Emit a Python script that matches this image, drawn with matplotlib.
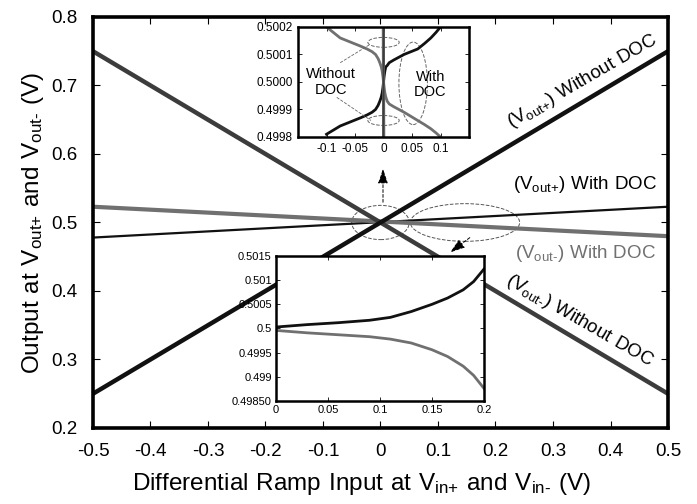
import matplotlib
matplotlib.use('Agg')
import matplotlib.pyplot as plt
from matplotlib.patches import Ellipse

plt.rcParams['font.family'] = ['Liberation Sans', 'DejaVu Sans']
plt.rcParams['mathtext.fontset'] = 'custom'
plt.rcParams['mathtext.rm'] = 'Liberation Sans'
plt.rcParams['mathtext.default'] = 'rm'

# main plot data
x_nodoc = [-0.5, 0.5]
vp_nodoc = [0.25, 0.75]
vm_nodoc = [0.75, 0.25]
x_doc = [-0.5, 0.5]
vp_doc = [0.478, 0.523]
vm_doc = [0.523, 0.480]

x_ticks = [-0.5, -0.4, -0.3, -0.2, -0.1, 0, 0.1, 0.2, 0.3, 0.4, 0.5]
x_tick_labels = ['-0.5', '-0.4', '-0.3', '-0.2', '-0.1', '0', '0.1', '0.2', '0.3', '0.4', '0.5']
y_ticks = [0.2, 0.3, 0.4, 0.5, 0.6, 0.7, 0.8]

# top inset (zoom around origin)
x_in1 = [-0.1, -0.088, -0.076, -0.064, -0.052, -0.04, -0.029, -0.02, -0.014, -0.0095, -0.0065, -0.004, -0.0024, -0.001,
         0, 0.001, 0.0024, 0.004, 0.0065, 0.01, 0.018, 0.027, 0.036, 0.048, 0.06, 0.072, 0.083, 0.092, 0.1]
vp_in1 = [0.49981, 0.499825, 0.49984, 0.49985, 0.49986, 0.49987, 0.49988, 0.49989, 0.49990, 0.499915, 0.49993, 0.499945, 0.49996, 0.49998,
          0.50000, 0.50002, 0.50004, 0.500055, 0.50006, 0.50007, 0.50008, 0.50009, 0.50010, 0.50011, 0.50012, 0.50014, 0.50016, 0.50018, 0.50020]
vm_in1 = [0.50020, 0.50018, 0.50016, 0.50015, 0.50014, 0.50013, 0.50012, 0.50011, 0.50010, 0.500085, 0.50007, 0.500055, 0.50004, 0.50002,
          0.50000, 0.49998, 0.49996, 0.499945, 0.49993, 0.49992, 0.49991, 0.49990, 0.49989, 0.499875, 0.49986, 0.499845, 0.49983, 0.499815, 0.49980]
in1_xticks = [-0.1, -0.05, 0, 0.05, 0.1]
in1_xlabels = ['-0.1', '-0.05', '0', '0.05', '0.1']
in1_yticks = [0.4998, 0.4999, 0.5000, 0.5001, 0.5002]
in1_ylabels = ['0.4998', '0.4999', '0.5000', '0.5001', '0.5002']

# bottom inset (0 .. 0.2 V, with DOC)
x_in2 = [0, 0.03, 0.06, 0.09, 0.11, 0.13, 0.15, 0.165, 0.18, 0.19, 0.2]
vp_in2 = [0.50003, 0.50008, 0.50012, 0.50017, 0.50023, 0.50035, 0.50050, 0.50063, 0.50080, 0.50097, 0.50123]
vm_in2 = [0.49996, 0.49991, 0.49987, 0.49983, 0.49978, 0.49970, 0.49956, 0.49942, 0.49922, 0.49903, 0.49876]
in2_xticks = [0, 0.05, 0.1, 0.15, 0.2]
in2_xlabels = ['0', '0.05', '0.1', '0.15', '0.2']
in2_yticks = [0.4985, 0.499, 0.4995, 0.5, 0.5005, 0.501, 0.5015]
in2_ylabels = ['0.49850', '0.499', '0.4995', '0.5', '0.5005', '0.501', '0.5015']

BLACK = '#111111'
DGRAY = '#3c3c3c'
MGRAY = '#707070'
HY = '\u2010'     # plain hyphen, keeps mathtext from spacing it as a minus
PL = '{+}'        # grouped plus, no operator spacing

fig = plt.figure(figsize=(6.97, 5.04), dpi=100)
ax = fig.add_axes([0.1334, 0.1508, 0.825, 0.8155])

ax.plot(x_doc, vp_doc, color=BLACK, lw=1.6)
ax.plot(x_doc, vm_doc, color=MGRAY, lw=3.0)
ax.plot(x_nodoc, vm_nodoc, color=DGRAY, lw=3.2)
ax.plot(x_nodoc, vp_nodoc, color=BLACK, lw=3.2)

ax.set_xlim(-0.5, 0.5)
ax.set_ylim(0.2, 0.8)
ax.set_xticks(x_ticks)
ax.set_xticklabels(x_tick_labels)
ax.set_yticks(y_ticks)
ax.tick_params(direction='in', length=5, width=0.8, labelsize=13.5, top=True, right=True)
ax.tick_params(axis='x', pad=11)
ax.tick_params(axis='y', pad=11)
for s in ax.spines.values():
    s.set_linewidth(2.6)
ax.set_xlabel(r'$\mathrm{Differential\ Ramp\ Input\ at\ V_{in' + PL + r'}\ and\ V_{in' + HY + r'}\ (V)}$',
              fontsize=17.5)
ax.xaxis.set_label_coords(0.467, -0.105)
ax.set_ylabel(r'$\mathrm{Output\ at\ V_{out' + PL + r'}\ and\ V_{out' + HY + r'}\ (V)}$', fontsize=17.5, labelpad=4)

# dashed ellipses + arrows in the main plot
ax.add_patch(Ellipse((0, 0.5), 0.1, 0.05, fill=False, ls='--', lw=0.7, ec='#555555'))
ax.add_patch(Ellipse((0.147, 0.5), 0.19, 0.055, fill=False, ls='--', lw=0.7, ec='#555555'))
arrow = dict(arrowstyle='-|>,head_length=0.9,head_width=0.3', color='k', lw=0.7, ls=(0, (3, 2)))
ax.annotate('', xy=(383 / 697, 1 - 166 / 504), xycoords='figure fraction',
            xytext=(383 / 697, 1 - 205 / 504), textcoords='figure fraction', arrowprops=arrow)
ax.annotate('', xy=(448 / 697, 1 - 254 / 504), xycoords='figure fraction',
            xytext=(472 / 697, 1 - 236 / 504), textcoords='figure fraction', arrowprops=arrow)

# curve labels
ax.text(0.352, 0.706, r'$\mathrm{(V_{out' + PL + r'})\ Without\ DOC}$', fontsize=13.5, rotation=30,
        ha='center', va='center', rotation_mode='anchor')
ax.text(0.23, 0.556, r'$\mathrm{(V_{out' + PL + r'})\ With\ DOC}$', fontsize=13.5, ha='left', va='center')
ax.text(0.234, 0.455, r'$\mathrm{(V_{out' + HY + r'})\ With\ DOC}$', fontsize=13.5,
        ha='left', va='center', color=MGRAY)
ax.text(0.347, 0.356, r'$\mathrm{(V_{out' + HY + r'})\ Without\ DOC}$', fontsize=13.5, rotation=-30,
        ha='center', va='center', rotation_mode='anchor')

# top inset
ax1 = fig.add_axes([0.4276, 0.7282, 0.2453, 0.2183])
ax1.plot(x_in1, vm_in1, color=MGRAY, lw=2.0)
ax1.plot(x_in1, vp_in1, color=BLACK, lw=2.0)
ax1.plot(x_nodoc, vm_nodoc, color=MGRAY, lw=2.2)
ax1.plot(x_nodoc, vp_nodoc, color=DGRAY, lw=1.4)
ax1.set_xlim(-0.15, 0.15)
ax1.set_ylim(0.4998, 0.5002)
ax1.set_xticks(in1_xticks)
ax1.set_xticklabels(in1_xlabels)
ax1.set_yticks(in1_yticks)
ax1.set_yticklabels(in1_ylabels)
ax1.tick_params(direction='in', length=3, width=0.6, labelsize=8.5, top=True, right=True, pad=4)
for s in ax1.spines.values():
    s.set_linewidth(1.8)
ax1.text(-0.092, 0.50000, 'Without\nDOC', fontsize=10.5, ha='center', va='center', linespacing=1.1)
ax1.text(0.082, 0.49999, 'With\nDOC', fontsize=10.5, ha='center', va='center', linespacing=1.1)
ell = dict(fill=False, ls='--', lw=0.7, ec='#666666')
ax1.add_patch(Ellipse((0, 0.500144), 0.055, 0.000036, **ell))
ax1.add_patch(Ellipse((0, 0.49986), 0.055, 0.000036, **ell))
ax1.add_patch(Ellipse((0.052, 0.499995), 0.05, 0.0003, **ell))
ax1.plot([-0.076, -0.025], [0.50007, 0.500135], ls='--', lw=0.6, color='#666666')
ax1.plot([-0.082, -0.022], [0.499944, 0.49986], ls='--', lw=0.6, color='#666666')

# bottom inset
ax2 = fig.add_axes([0.396, 0.2044, 0.2984, 0.2877])
ax2.plot(x_in2, vp_in2, color=BLACK, lw=2.0)
ax2.plot(x_in2, vm_in2, color=MGRAY, lw=2.0)
ax2.set_xlim(0, 0.2)
ax2.set_ylim(0.4985, 0.5015)
ax2.set_xticks(in2_xticks)
ax2.set_xticklabels(in2_xlabels)
ax2.set_yticks(in2_yticks)
ax2.set_yticklabels(in2_ylabels)
ax2.tick_params(direction='in', length=3, width=0.6, labelsize=8, top=True, right=True, pad=3)
for s in ax2.spines.values():
    s.set_linewidth(1.8)

fig.savefig('out.png', dpi=100)
